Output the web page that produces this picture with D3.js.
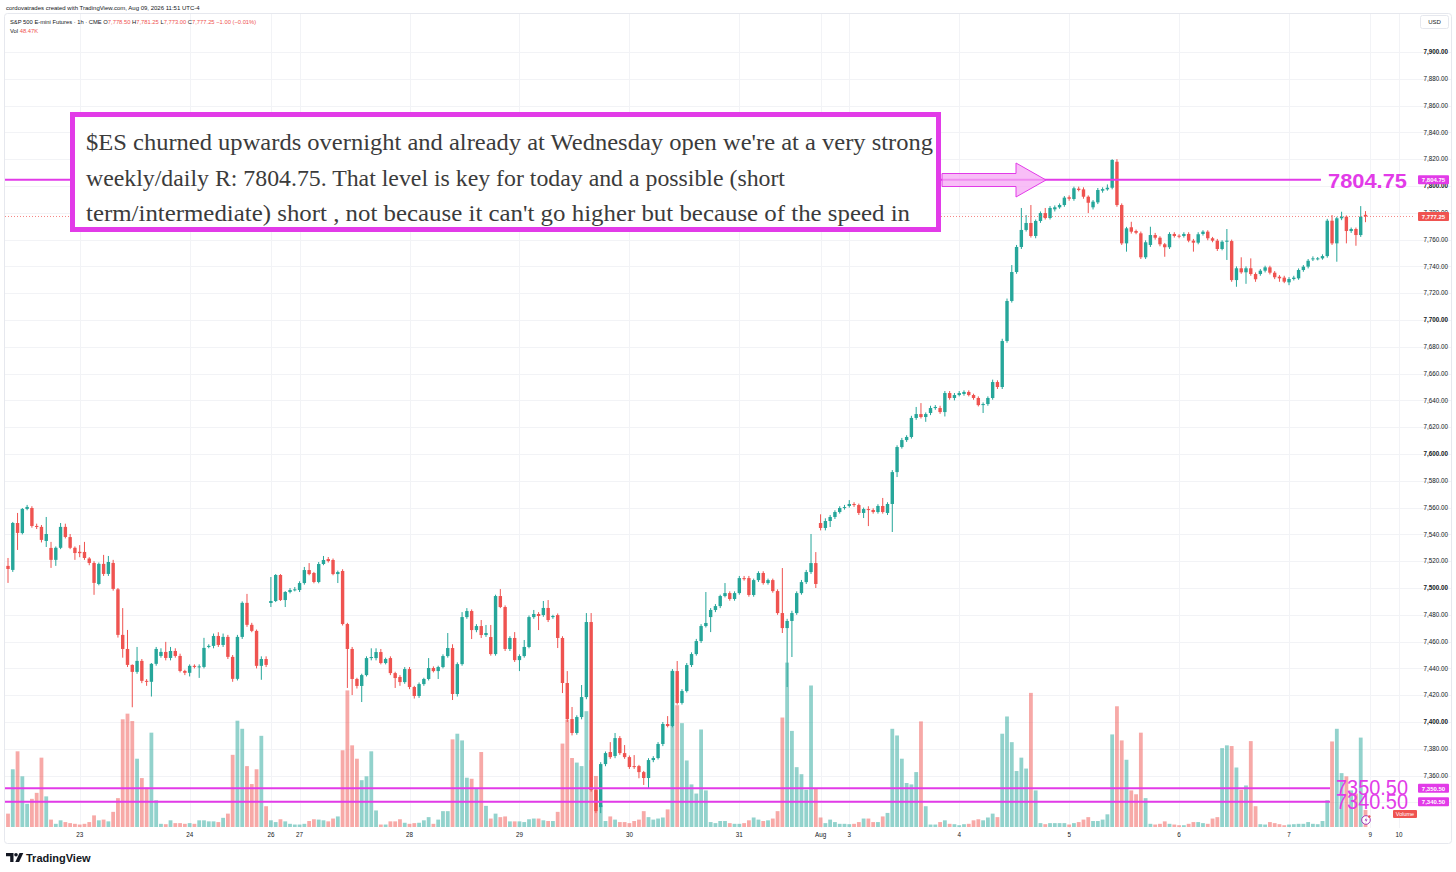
<!DOCTYPE html>
<html>
<head>
<meta charset="utf-8">
<script src="https://cdn.jsdelivr.net/npm/d3@7"></script>
<style>
  body { margin: 0; background: #fff; }
  svg { display: block; font-family: "Liberation Sans", Roboto, sans-serif; }
</style>
</head>
<body>
<svg id="chart" width="1456" height="872"></svg>
<script>
// ES1! 1h candles, Jul 22 09:00 -> Aug 7 16:00 (one entry per bar)
const opens = [
  7516.5, 7513.5, 7548.5, 7541, 7559, 7559.7, 7546.3, 7545.6, 7535.1, 7529.9,
  7521, 7530, 7545.6, 7538, 7530, 7527, 7526.9, 7522, 7518.7, 7503,
  7518, 7510.5, 7518.7, 7499, 7465, 7454.5, 7442.6, 7437.4, 7445.6, 7430.7,
  7430, 7443.4, 7449.3, 7452.3, 7447.8, 7453, 7449.3, 7438.1, 7436.7, 7441.9,
  7441, 7441.1, 7456, 7456.8, 7464.2, 7457.5, 7463.5, 7448.6, 7432.2, 7463.5,
  7488.9, 7472.5, 7468, 7441.9, 7447,
  7488.8, 7490.3, 7509.7, 7491, 7497,
  7498.5, 7498.5, 7503.7, 7513.4, 7511.2, 7504.5, 7517.9, 7521.6, 7520.9, 7510.4,
  7512.7, 7473.1, 7454.5, 7432.1, 7426.9, 7435, 7447.7, 7447.7, 7452.2, 7444,
  7447.7, 7436.5, 7433.6, 7429.8, 7439.5, 7426.1, 7419.4, 7428.3, 7432.1, 7440.3,
  7438, 7441, 7449.2, 7455.2, 7420.9, 7443.2, 7478.3, 7482.8, 7468.6, 7471.6,
  7464.9, 7463.4, 7450.7, 7494, 7485.8, 7454.5, 7462.7, 7446.2, 7449.2, 7456,
  7478.3, 7480.6, 7479.8, 7485.1, 7478.3, 7479.8, 7462.7, 7429.1, 7402.2, 7391.8,
  7403.7, 7418.6, 7474.6, 7349.2, 7336.5, 7368.6, 7377.6, 7374.6, 7388, 7376.8,
  7373.8, 7367.1, 7367.1, 7362.6, 7358.2, 7371.6, 7373.1, 7383.6, 7398.5, 7397,
  7438, 7414.2, 7423.1, 7442.5, 7450.7, 7460.4, 7471.6, 7478.3, 7483.6, 7486.5,
  7494, 7496.2, 7491.8, 7496.2, 7507.4, 7507.4, 7494.8, 7505.9, 7511.2, 7503.7,
  7505.9, 7497.7, 7481.3, 7470.1, 7475.4, 7481.3, 7496.2, 7504.4, 7511.9, 7518.6,
  7548.5, 7544.8, 7550, 7553, 7556.7, 7559.7, 7561.2, 7562.7, 7561.9, 7556,
  7558.9, 7558.2, 7556.7, 7561.2, 7556, 7562.7, 7586.5, 7605.2, 7610.4, 7612.7,
  7626.9, 7629.8, 7627.6, 7630.6, 7634.3, 7634.3, 7631.3, 7645.5, 7641.8, 7644,
  7644.8, 7646.3, 7644, 7641.8, 7636.5, 7637.3, 7641.8, 7653.7, 7650, 7684.3,
  7714.2, 7735.8, 7754.5, 7767.2, 7772.4, 7762.7, 7773.9, 7779.8, 7776.1, 7782.6,
  7784.1, 7785.8, 7791.6, 7790.3, 7798, 7797.5, 7792, 7784.1, 7787.8, 7796.5,
  7797.5, 7798.7, 7818.1, 7785.8, 7757.2, 7769.2, 7766.4, 7764.7, 7746.8, 7756,
  7763.4, 7761.4, 7756.5, 7754.3, 7764.2, 7762.9, 7762.7, 7764.2, 7759.2, 7757.7,
  7764.2, 7765.9, 7761, 7759.2, 7753, 7758.4, 7758.9, 7729.8, 7738.6, 7735.6,
  7738.6, 7734.3, 7734.3, 7736.8, 7739.3, 7735.3, 7732.3, 7731.6, 7728.1, 7730.6,
  7731.1, 7737.3, 7739.8, 7745.3, 7745.7, 7746, 7747.7, 7774.1, 7757.2, 7775.9,
  7777.1, 7766.4, 7767.9, 7763.4, 7778.5
];
const highs = [
  7522.4, 7549.3, 7556, 7559.7, 7562, 7561, 7548, 7547, 7553, 7534.4,
  7531, 7548.5, 7548, 7540.3, 7531, 7532, 7534.4, 7523, 7520, 7519,
  7524.7, 7523.9, 7521, 7500, 7485, 7468.7, 7443, 7456, 7447, 7432,
  7444, 7456, 7455, 7459.8, 7456, 7455, 7451, 7439, 7443, 7443,
  7443, 7462.8, 7458, 7466, 7467, 7466, 7465, 7450, 7465, 7490,
  7495.6, 7474, 7469, 7449, 7449,
  7508.2, 7510.4, 7510.4, 7497.7, 7500,
  7500.7, 7505, 7515.7, 7518.6, 7512, 7519.4, 7523.9, 7523.1, 7522, 7513,
  7514, 7474, 7456, 7433, 7436, 7449, 7455, 7455, 7454.5, 7448,
  7449, 7437.5, 7435, 7441, 7441, 7427, 7429.5, 7433, 7447.7, 7441.5,
  7442, 7450.5, 7466.4, 7458, 7444.5, 7482, 7485, 7484, 7473, 7476.1,
  7472.4, 7472.4, 7495, 7499.2, 7487, 7464, 7467.1, 7450.5, 7461.2, 7479.5,
  7483.6, 7482, 7490.3, 7491, 7480, 7481, 7464, 7438, 7411.2, 7405,
  7427.6, 7481.3, 7481.3, 7350, 7370, 7378, 7385, 7391.8, 7389.5, 7382.8,
  7375, 7375.3, 7368, 7363.5, 7373, 7374.5, 7385, 7400, 7404.4, 7439.5,
  7445.5, 7424.5, 7444, 7452, 7462, 7473, 7497, 7485, 7488, 7495,
  7503.7, 7497.5, 7497.5, 7509, 7509, 7509, 7507, 7512.5, 7512.5, 7507,
  7507, 7499, 7514.9, 7477, 7483, 7497.5, 7506, 7513.5, 7540.3, 7526.8,
  7555, 7552, 7554.5, 7558, 7561, 7562, 7565.6, 7564, 7563, 7560,
  7561, 7559.5, 7562.5, 7567.2, 7564, 7588, 7606.5, 7612, 7614, 7628.5,
  7635.1, 7638, 7631, 7636, 7636.5, 7636, 7647, 7647, 7645.5, 7647,
  7647.5, 7647.5, 7645, 7643, 7638.5, 7643, 7655.5, 7655, 7686, 7716,
  7741, 7756, 7783.6, 7778.3, 7785.8, 7775, 7781, 7783.6, 7785, 7785.5,
  7787, 7792.5, 7793, 7799.5, 7799.5, 7799, 7793, 7789.5, 7798.5, 7799,
  7801.2, 7820, 7820, 7787, 7769.5, 7773.3, 7767.5, 7766, 7759.5, 7769.6,
  7765, 7762.5, 7757.5, 7765.5, 7765.5, 7764, 7765.5, 7765.5, 7760.5, 7765.5,
  7767, 7767, 7762, 7760.5, 7759.5, 7767.9, 7760, 7740, 7746.8, 7740,
  7746, 7735.5, 7738, 7740.5, 7740.5, 7736.5, 7733.5, 7733, 7732, 7733,
  7738.5, 7741, 7745.5, 7747.5, 7747, 7749, 7775.5, 7778.3, 7777, 7780.8,
  7778, 7769, 7769, 7785, 7781.25
];
const lows = [
  7503.8, 7512, 7528.4, 7540, 7558, 7545, 7544, 7534, 7530.6, 7515,
  7516.5, 7529, 7537, 7529, 7521, 7523, 7521, 7517, 7494.9, 7502,
  7509, 7509, 7498, 7463, 7448, 7441, 7411, 7436, 7429, 7427,
  7419, 7442, 7448, 7446, 7446, 7448, 7437, 7435, 7434, 7440,
  7432.9, 7440, 7455, 7455, 7456, 7456, 7447, 7430, 7431, 7462,
  7471, 7467, 7440, 7431.5, 7441,
  7485.8, 7489.5, 7490.3, 7485.8, 7496,
  7497.5, 7497, 7502.5, 7509.5, 7503.5, 7503.5, 7517, 7519, 7509.5, 7503.7,
  7472, 7425.4, 7420.1, 7425, 7414.9, 7434, 7446, 7446, 7443, 7443,
  7435, 7425.4, 7427, 7428.5, 7424.5, 7417.5, 7418, 7427, 7431, 7437,
  7432.1, 7440, 7448, 7416.4, 7419, 7442, 7477, 7461.9, 7467, 7462.7,
  7463.5, 7449.5, 7449.5, 7485, 7453, 7453, 7444.8, 7438, 7448, 7455,
  7477, 7468.6, 7478.5, 7474.6, 7477, 7455.2, 7421.6, 7400, 7390, 7390.5,
  7402, 7417, 7348, 7332, 7332, 7367, 7372.5, 7373, 7375.5, 7372.5,
  7365, 7365, 7358, 7353, 7350.7, 7370, 7372, 7382, 7396, 7396,
  7413, 7413, 7422, 7441, 7449.5, 7459, 7470.5, 7467.1, 7482, 7485,
  7493, 7490.5, 7490.5, 7495, 7505.5, 7493.5, 7493.5, 7504.5, 7502.5, 7502.5,
  7496.5, 7480, 7466.4, 7426.1, 7448.5, 7480, 7495, 7503, 7510.5, 7500,
  7543, 7543, 7545.5, 7551.5, 7555.5, 7558.5, 7560, 7560.5, 7554.5, 7552.2,
  7546.2, 7555.5, 7555.5, 7555.5, 7554.5, 7541.8, 7582.8, 7604, 7609, 7611.5,
  7625.5, 7626.5, 7624, 7629, 7633, 7630, 7628, 7640.5, 7640, 7643,
  7643.5, 7643, 7640.5, 7635.5, 7630.6, 7636, 7640.5, 7648.5, 7648.5, 7683,
  7713, 7734.5, 7753, 7766, 7761.5, 7761, 7772.5, 7775, 7775, 7781,
  7783, 7784.5, 7789, 7789, 7796, 7790.5, 7779.8, 7782.5, 7786.5, 7795,
  7796.5, 7797.5, 7784.5, 7756, 7751, 7764.5, 7764, 7745.5, 7745.5, 7754.5,
  7760, 7755, 7747.2, 7753, 7761.5, 7761, 7761.5, 7758, 7751, 7756.5,
  7763, 7759.5, 7758, 7751.5, 7752, 7744.8, 7728.5, 7724.8, 7734.5, 7727,
  7733, 7728.5, 7733, 7735.5, 7734, 7730.5, 7728.5, 7727.5, 7726, 7729.5,
  7730, 7736, 7738.5, 7744, 7744.5, 7745, 7746.5, 7756, 7743.5, 7774.5,
  7757.2, 7765, 7755.4, 7762, 7773
];
const closes = [
  7514.2, 7548.5, 7541.1, 7559, 7560.5, 7546.3, 7545.6, 7535.9, 7540.3, 7521,
  7530, 7545.6, 7538.1, 7530, 7526.1, 7526, 7522.4, 7518.7, 7503.8, 7518,
  7510.5, 7519.4, 7499.3, 7465, 7454.5, 7442.6, 7437.4, 7445.6, 7430.7, 7430,
  7443.4, 7454.5, 7452.3, 7447.8, 7453, 7449.3, 7438.1, 7436.7, 7441.9, 7441.1,
  7441.5, 7455.3, 7456.8, 7464.2, 7457.5, 7463.5, 7448.6, 7432.2, 7463.5, 7488.9,
  7472.5, 7468, 7441.9, 7447, 7442.6,
  7490.3, 7509.7, 7491, 7497, 7498.5,
  7499, 7503.7, 7513.4, 7510.4, 7504.5, 7517.9, 7520.9, 7520.1, 7510.4, 7511.9,
  7473.1, 7454.5, 7432.1, 7426.9, 7435, 7447.7, 7448.5, 7452.2, 7444, 7447,
  7436.5, 7432.8, 7429.8, 7439.5, 7426.1, 7419.4, 7428.3, 7432.1, 7440.3, 7438,
  7441, 7449.2, 7455.2, 7420.9, 7443.2, 7478.3, 7482.8, 7468.6, 7471.6, 7464.9,
  7466.4, 7450.7, 7494, 7485.8, 7454.5, 7462.7, 7446.2, 7449.2, 7456, 7478.3,
  7480.6, 7479.1, 7485.1, 7476.1, 7479.1, 7462.7, 7429.1, 7402.2, 7391.8, 7403.7,
  7418.6, 7474.6, 7349.2, 7333.5, 7368.6, 7376.8, 7373.8, 7388, 7376.8, 7373.8,
  7366.4, 7366.4, 7362.6, 7358.2, 7371.6, 7373.1, 7383.6, 7398.5, 7397, 7438,
  7414.2, 7423.1, 7442.5, 7450.7, 7460.4, 7471.6, 7473.9, 7483.6, 7486.5, 7494,
  7496.2, 7491.8, 7496.2, 7507.4, 7506.6, 7494.8, 7505.9, 7511.2, 7503.7, 7505.9,
  7497.7, 7481.3, 7470.1, 7475.4, 7481.3, 7496.2, 7504.4, 7511.9, 7518.6, 7503,
  7544.8, 7550, 7553, 7556.7, 7559.7, 7560.4, 7562.7, 7561.9, 7556, 7558.9,
  7558.2, 7556.7, 7561.2, 7556.7, 7562.7, 7586.5, 7605.2, 7610.4, 7612.7, 7626.9,
  7629.8, 7627.6, 7629.8, 7634.3, 7635.1, 7631.3, 7645.5, 7641.8, 7644, 7645.5,
  7646.3, 7644, 7641.8, 7636.5, 7637.3, 7641.8, 7653.7, 7650, 7684.3, 7714.2,
  7735.8, 7754.5, 7767.2, 7772.4, 7762.7, 7773.9, 7779.8, 7776.1, 7783.6, 7784.1,
  7785.8, 7791.3, 7790.5, 7798.3, 7797, 7792, 7787.5, 7788.3, 7797, 7797.7,
  7798.7, 7819.4, 7785.8, 7757.2, 7768.4, 7765.9, 7765.1, 7746.8, 7758, 7763.4,
  7761.4, 7756.5, 7754.3, 7764.2, 7762.7, 7762.4, 7764.2, 7759.2, 7757.7, 7764,
  7765.9, 7761, 7759.2, 7753, 7758.4, 7759.2, 7729.8, 7738.6, 7735.6, 7738.6,
  7734.3, 7730.4, 7736.8, 7739.3, 7735.3, 7731.9, 7731.1, 7728.6, 7730.6, 7731.6,
  7737.3, 7739.8, 7744.2, 7746, 7746, 7747.7, 7774.1, 7757.2, 7775.9, 7777.1,
  7766.4, 7767.9, 7763.4, 7777.1, 7777.25
];
// volume in K contracts
const volumes = [
  38, 164, 215, 144, 66, 80, 97, 197, 87, 21,
  9, 19, 14, 11, 9, 7, 9, 14, 33, 19,
  21, 16, 43, 82, 306, 322, 301, 194, 139, 112,
  268, 76, 9, 8, 19, 11, 11, 9, 11, 9,
  19, 19, 16, 16, 14, 26, 38, 205, 302, 279,
  173, 122, 164, 259, 59,
  19, 14, 22, 16, 9,
  7, 7, 9, 17, 22, 21, 19, 16, 24, 30,
  218, 388, 232, 194, 133, 144, 215, 47, 7, 7,
  16, 16, 22, 12, 9, 11, 12, 19, 28, 9,
  21, 45, 45, 249, 265, 246, 140, 137, 109, 213,
  60, 24, 38, 28, 30, 16, 16, 16, 14, 22,
  24, 24, 19, 17, 17, 43, 237, 305, 196, 183,
  173, 329, 190, 145, 62, 17, 30, 21, 14, 14,
  11, 17, 21, 45, 28, 21, 24, 27, 50, 444,
  346, 295, 189, 121, 95, 277, 104, 14, 11, 17,
  17, 11, 9, 9, 11, 19, 27, 21, 17, 19,
  24, 45, 311, 467, 273, 170, 150, 106, 402, 109,
  27, 11, 21, 14, 9, 9, 8, 9, 14, 24,
  24, 14, 14, 30, 40, 279, 260, 194, 125, 121,
  156, 300, 59, 7, 7, 14, 19, 9, 8, 5,
  8, 9, 19, 22, 19, 27, 38, 28, 265, 314,
  241, 159, 197, 166, 381, 104, 11, 8, 11, 11,
  11, 11, 7, 11, 14, 21, 28, 17, 17, 21,
  36, 263, 343, 246, 191, 104, 93, 268, 82, 9,
  7, 9, 16, 9, 7, 5, 5, 9, 14, 14,
  11, 9, 24, 28, 224, 232, 230, 169, 106, 118,
  244, 59, 8, 7, 14, 11, 8, 5, 7, 8,
  9, 9, 14, 9, 8, 17, 76, 243, 279, 153,
  144, 104, 95, 254, 48.47
];
// time axis labels: bar index where each session/day starts
const dayIndex = [16, 39, 56, 62, 85, 108, 131, 154, 171, 177, 200, 223, 246, 269, 286, 292];
const dayLabels = ['23', '24', '26', '27', '28', '29', '30', '31', 'Aug', '3', '4', '5', '6', '7', '9', '10'];

const levelPrices = [7804.75, 7350.50, 7340.50];
const levelTexts = ['7804.75', '7350.50', '7340.50'];
const lastPrice = 7777.25;

const noteLines = [
  "$ES churned upwards overnight and already at Wednesday open we're at a very strong",
  "weekly/daily R: 7804.75. That level is key for today and a possible (short",
  "term/intermediate) short , not because it can't go higher but because of the speed in"
];

const UP = '#26a69a', DOWN = '#ef5350', PINK = '#e23be8';

let bars = opens.map(function (o, i) {
    return {i: i + 1, o: o, h: highs[i], l: lows[i], c: closes[i], v: volumes[i]};
});

let svg = d3.select('#chart');

let x = d3.scaleLinear().domain([1, 285]).range([8, 1365.5]);
let y = d3.scaleLinear().domain([7400, 7900]).range([722, 52]);
let yv = d3.scaleLinear().domain([0, 400]).range([827, 686.2]);

// frame + grid
svg.append('rect')
    .attr('x', 4.5).attr('y', 13.5).attr('width', 1447).attr('height', 830)
    .attr('rx', 3).attr('fill', 'none').attr('stroke', '#e6e8ee');

let grid = svg.append('g');
grid.selectAll('line.h')
    .data(d3.range(7340, 7901, 20))
    .enter().append('line')
    .attr('x1', 5).attr('x2', 1451)
    .attr('y1', d => Math.round(y(d)) + 0.5).attr('y2', d => Math.round(y(d)) + 0.5)
    .attr('stroke', '#f2f3f6');
grid.selectAll('line.v')
    .data(dayIndex)
    .enter().append('line')
    .attr('x1', d => Math.round(x(d)) + 0.5).attr('x2', d => Math.round(x(d)) + 0.5)
    .attr('y1', 14).attr('y2', 828)
    .attr('stroke', '#f2f3f6');

// volume
svg.append('g').selectAll('rect')
    .data(bars)
    .enter().append('rect')
    .attr('x', d => x(d.i) - 1.9)
    .attr('width', 3.8)
    .attr('y', d => yv(d.v))
    .attr('height', d => yv(0) - yv(d.v))
    .attr('fill', d => d.c >= d.o ? UP : DOWN)
    .attr('fill-opacity', 0.5);

// candles
let candle = svg.append('g').selectAll('g')
    .data(bars)
    .enter().append('g');
candle.append('line')
    .attr('x1', d => x(d.i)).attr('x2', d => x(d.i))
    .attr('y1', d => y(d.h)).attr('y2', d => y(d.l))
    .attr('stroke', d => d.c >= d.o ? UP : DOWN)
    .attr('stroke-width', 1);
candle.append('rect')
    .attr('x', d => x(d.i) - 1.7)
    .attr('width', 3.4)
    .attr('y', d => y(Math.max(d.o, d.c)))
    .attr('height', d => Math.max(1, Math.abs(y(d.o) - y(d.c))))
    .attr('fill', d => d.c >= d.o ? UP : DOWN);

// last price dotted line
svg.append('line')
    .attr('x1', 5).attr('x2', 1414)
    .attr('y1', y(lastPrice)).attr('y2', y(lastPrice))
    .attr('stroke', DOWN).attr('stroke-opacity', 0.7)
    .attr('stroke-dasharray', '1,2');

// horizontal levels
let levelEnd = [1321, 1330, 1330];
svg.append('g').selectAll('line')
    .data(levelPrices)
    .enter().append('line')
    .attr('x1', 5).attr('x2', (d, i) => levelEnd[i])
    .attr('y1', d => y(d)).attr('y2', d => y(d))
    .attr('stroke', PINK).attr('stroke-width', 2);

svg.append('text')
    .attr('x', 1328).attr('y', y(levelPrices[0]) + 8)
    .attr('fill', PINK).attr('font-size', 21).attr('font-weight', 'bold')
    .attr('textLength', 79).attr('lengthAdjust', 'spacingAndGlyphs')
    .text(levelTexts[0]);
svg.append('g').selectAll('text')
    .data([1, 2])
    .enter().append('text')
    .attr('x', 1336).attr('y', i => y(levelPrices[i]) + 7)
    .attr('fill', PINK).attr('font-size', 22)
    .attr('textLength', 72).attr('lengthAdjust', 'spacingAndGlyphs')
    .text(i => levelTexts[i]);

// arrow pointing at the level
svg.append('path')
    .attr('d', 'M942,173.5 L1016,173.5 L1016,163 L1046,180 L1016,197 L1016,186.5 L942,186.5 Z')
    .attr('fill', '#f6a8f4').attr('fill-opacity', 0.75)
    .attr('stroke', PINK).attr('stroke-width', 1);

// note box
svg.append('rect')
    .attr('x', 72.5).attr('y', 114.5).attr('width', 866).attr('height', 115)
    .attr('fill', '#fff').attr('stroke', PINK).attr('stroke-width', 5);
svg.append('g').selectAll('text')
    .data(noteLines)
    .enter().append('text')
    .attr('x', 86).attr('y', (d, i) => 150 + i * 35.5)
    .attr('font-family', '"Liberation Serif", "DejaVu Serif", serif')
    .attr('font-size', 24).attr('fill', '#3b3b3b')
    .attr('textLength', (d, i) => [847, 699, 824][i])
    .attr('lengthAdjust', 'spacingAndGlyphs')
    .text(d => d);

// price axis
let axis = svg.append('g').attr('font-size', 6.3).attr('fill', '#131722').attr('text-anchor', 'end');
axis.selectAll('text')
    .data(d3.range(7340, 7901, 20))
    .enter().append('text')
    .attr('x', 1448).attr('y', d => y(d) + 2.2)
    .attr('font-weight', d => d % 100 === 0 ? 'bold' : 'normal')
    .text(d => d3.format(',.2f')(d));

function priceTag(price, label, color) {
    let g = svg.append('g');
    g.append('rect')
        .attr('x', 1418).attr('y', y(price) - 4.5).attr('width', 31).attr('height', 9)
        .attr('rx', 1).attr('fill', color);
    g.append('text')
        .attr('x', 1433.5).attr('y', y(price) + 2.2).attr('text-anchor', 'middle')
        .attr('font-size', 6).attr('fill', '#fff').attr('font-weight', 'bold')
        .text(label);
}
priceTag(levelPrices[0], '7,804.75', PINK);
priceTag(lastPrice, '7,777.25', DOWN);
priceTag(levelPrices[1], '7,350.50', PINK);
priceTag(levelPrices[2], '7,340.50', PINK);

// USD box
svg.append('rect').attr('x', 1420.5).attr('y', 15.5).attr('width', 28).attr('height', 13)
    .attr('rx', 2).attr('fill', '#fff').attr('stroke', '#e6e8ee');
svg.append('text').attr('x', 1434.5).attr('y', 24.3).attr('text-anchor', 'middle')
    .attr('font-size', 6).attr('fill', '#131722').text('USD');

// time axis
svg.append('g').selectAll('text')
    .data(dayIndex)
    .enter().append('text')
    .attr('x', d => x(d)).attr('y', 837)
    .attr('text-anchor', 'middle').attr('font-size', 6.3).attr('fill', '#131722')
    .text((d, i) => dayLabels[i]);

// volume tag + replay icon
svg.append('rect').attr('x', 1393).attr('y', 810).attr('width', 24).attr('height', 8)
    .attr('rx', 1).attr('fill', DOWN);
svg.append('text').attr('x', 1405).attr('y', 816).attr('text-anchor', 'middle')
    .attr('font-size', 5.5).attr('fill', '#fff').text('Volume');
svg.append('circle').attr('cx', 1366).attr('cy', 820).attr('r', 4.3)
    .attr('fill', '#fff').attr('stroke', '#9c27b0').attr('stroke-width', 0.9);
svg.append('path').attr('d', 'M1367,816.8 L1364.6,820.4 L1366.4,820.4 L1365.2,823.3 L1367.6,819.5 L1365.8,819.5 Z')
    .attr('fill', '#9c27b0');
svg.append('circle').attr('cx', 1369.3).attr('cy', 816.5).attr('r', 1.3).attr('fill', DOWN);

// header
svg.append('text').attr('x', 6).attr('y', 9.5).attr('font-size', 6).attr('fill', '#131722')
    .text('cordovatrades created with TradingView.com, Aug 09, 2026 11:51 UTC-4');

let legend = svg.append('text').attr('x', 10).attr('y', 23.5).attr('font-size', 5.8).attr('fill', '#131722');
legend.append('tspan').text('S&P 500 E-mini Futures · 1h · CME  O');
legend.append('tspan').attr('fill', DOWN).text('7,778.50');
legend.append('tspan').text(' H');
legend.append('tspan').attr('fill', DOWN).text('7,781.25');
legend.append('tspan').text(' L');
legend.append('tspan').attr('fill', DOWN).text('7,773.00');
legend.append('tspan').text(' C');
legend.append('tspan').attr('fill', DOWN).text('7,777.25  −1.00 (−0.01%)');

let vol = svg.append('text').attr('x', 10).attr('y', 32.5).attr('font-size', 5.8).attr('fill', '#131722');
vol.append('tspan').text('Vol  ');
vol.append('tspan').attr('fill', DOWN).text('48.47K');

// TradingView logo
svg.append('path').attr('d', 'M6,853 h7.5 v9 h-3.3 v-5.8 h-4.2 Z').attr('fill', '#131722');
svg.append('circle').attr('cx', 16).attr('cy', 854.8).attr('r', 1.8).attr('fill', '#131722');
svg.append('path').attr('d', 'M19.5,853 h3.8 l-4.2,9 h-3.8 Z').attr('fill', '#131722');
svg.append('text').attr('x', 26).attr('y', 861.5).attr('font-size', 11).attr('font-weight', 'bold')
    .attr('fill', '#131722').text('TradingView');
</script>
</body>
</html>
